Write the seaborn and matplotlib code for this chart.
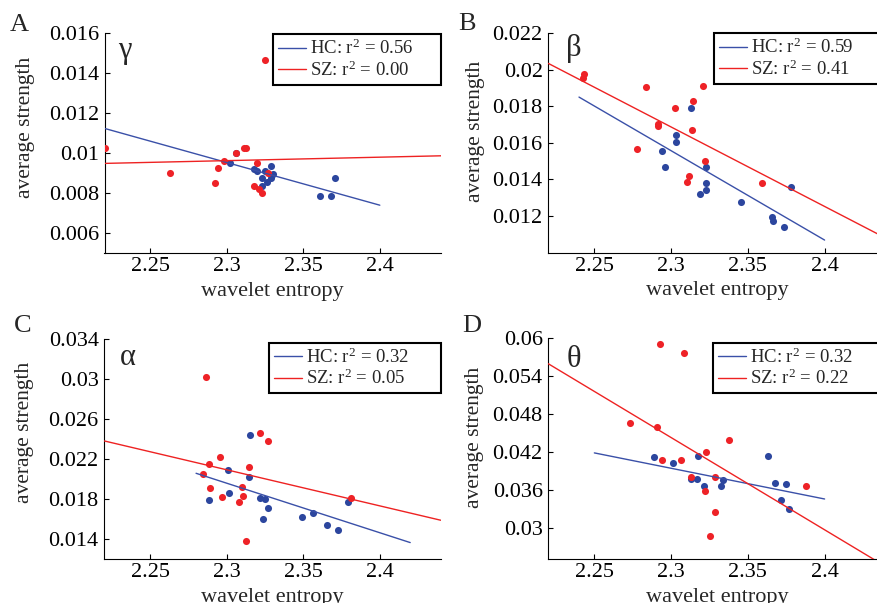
import numpy as np
import pandas as pd
import matplotlib
matplotlib.use("Agg")
import matplotlib.pyplot as plt
import seaborn as sns

# ---------------- data ----------------
# Panel A (gamma)
a_hc_x = [2.3022, 2.3057, 2.3179, 2.3199, 2.3249, 2.3286, 2.3229, 2.3231, 2.3260, 2.3286, 2.3301, 2.3607, 2.3683, 2.3707]
a_hc_y = [0.00951, 0.01001, 0.00921, 0.00911, 0.00911, 0.00935, 0.00873, 0.00834, 0.00856, 0.00873, 0.00894, 0.00787, 0.00784, 0.00873]
a_sz_x = [2.2201, 2.2627, 2.2921, 2.2943, 2.2980, 2.3063, 2.3109, 2.3127, 2.3199, 2.3179, 2.3207, 2.3231, 2.3249, 2.3268]
a_sz_y = [0.01023, 0.00898, 0.00851, 0.00926, 0.00958, 0.01001, 0.01023, 0.01023, 0.00948, 0.00833, 0.00822, 0.00801, 0.01466, 0.00901]
a_hc_fit_x = [2.22, 2.40]
a_hc_fit_y = [0.01123, 0.00739]
a_sz_fit_x = [2.22, 2.44]
a_sz_fit_y = [0.00948, 0.00986]

# Panel B (beta)
b_hc_x = [2.2939, 2.2961, 2.3030, 2.3033, 2.3128, 2.3230, 2.3226, 2.3228, 2.3187, 2.3457, 2.3657, 2.3665, 2.3737, 2.3778]
b_hc_y = [0.01554, 0.01468, 0.01642, 0.01605, 0.01788, 0.01468, 0.01381, 0.01344, 0.01319, 0.01278, 0.01195, 0.01171, 0.01142, 0.01359]
b_sz_x = [2.2430, 2.2428, 2.2776, 2.2839, 2.2915, 2.2915, 2.3024, 2.3104, 2.3117, 2.3141, 2.3137, 2.3207, 2.3222, 2.3594]
b_sz_y = [0.01977, 0.01954, 0.01567, 0.01904, 0.01702, 0.01693, 0.01793, 0.01384, 0.01417, 0.01831, 0.01669, 0.01908, 0.01499, 0.01379]
b_hc_fit_x = [2.24, 2.40]
b_hc_fit_y = [0.01850, 0.01069]
b_sz_fit_x = [2.22, 2.44]
b_sz_fit_y = [0.02034, 0.01079]

# Panel C (alpha)
c_hc_x = [2.2884, 2.3009, 2.3017, 2.3144, 2.3151, 2.3218, 2.3249, 2.3273, 2.3236, 2.3491, 2.3565, 2.3659, 2.3731, 2.3795]
c_hc_y = [0.01789, 0.02092, 0.01862, 0.02022, 0.02445, 0.01809, 0.01803, 0.01709, 0.01603, 0.01626, 0.01663, 0.01543, 0.01490, 0.01776]
c_sz_x = [2.2867, 2.2847, 2.2884, 2.2893, 2.2956, 2.2969, 2.3081, 2.3103, 2.3105, 2.3144, 2.3129, 2.3218, 2.3268, 2.3816]
c_sz_y = [0.03017, 0.02049, 0.02149, 0.01916, 0.02219, 0.01826, 0.01776, 0.01919, 0.01829, 0.02122, 0.01387, 0.02458, 0.02385, 0.01813]
c_hc_fit_x = [2.28, 2.42]
c_hc_fit_y = [0.02059, 0.01367]
c_sz_fit_x = [2.22, 2.44]
c_sz_fit_y = [0.02382, 0.01590]

# Panel D (theta)
d_hc_x = [2.2889, 2.3011, 2.3174, 2.3130, 2.3170, 2.3213, 2.3328, 2.3339, 2.3630, 2.3680, 2.3746, 2.3717, 2.3767]
d_hc_y = [0.04122, 0.04021, 0.04132, 0.03767, 0.03778, 0.03667, 0.03656, 0.03762, 0.04138, 0.03704, 0.03693, 0.03434, 0.03291]
d_sz_x = [2.2930, 2.3087, 2.2733, 2.2907, 2.2941, 2.3063, 2.3130, 2.3230, 2.3376, 2.3285, 2.3220, 2.3283, 2.3252, 2.3880]
d_sz_y = [0.05910, 0.05762, 0.04661, 0.04603, 0.04069, 0.04069, 0.03804, 0.04201, 0.04392, 0.03810, 0.03582, 0.03243, 0.02862, 0.03661]
d_hc_fit_x = [2.25, 2.40]
d_hc_fit_y = [0.04185, 0.03455]
d_sz_fit_x = [2.22, 2.44]
d_sz_fit_y = [0.05597, 0.02383]

x_ticks = [2.25, 2.3, 2.35, 2.4]
x_tick_labels = ["2.25", "2.3", "2.35", "2.4"]
a_yticks = [0.006, 0.008, 0.01, 0.012, 0.014, 0.016]
a_ylabels = ["0.006", "0.008", "0.01", "0.012", "0.014", "0.016"]
b_yticks = [0.012, 0.014, 0.016, 0.018, 0.02, 0.022]
b_ylabels = ["0.012", "0.014", "0.016", "0.018", "0.02", "0.022"]
c_yticks = [0.014, 0.018, 0.022, 0.026, 0.03, 0.034]
c_ylabels = ["0.014", "0.018", "0.022", "0.026", "0.03", "0.034"]
d_yticks = [0.03, 0.036, 0.042, 0.048, 0.054, 0.06]
d_ylabels = ["0.03", "0.036", "0.042", "0.048", "0.054", "0.06"]

panel_letters = ["A", "B", "C", "D"]
band_names = ["\u03b3", "\u03b2", "\u03b1", "\u03b8"]
hc_r2 = ["0.56", "0.59", "0.32", "0.32"]
sz_r2 = ["0.00", "0.41", "0.05", "0.22"]

# ---------------- style ----------------
sns.set_style("ticks")
plt.rcParams["font.family"] = ["Liberation Serif", "DejaVu Serif"]
plt.rcParams["mathtext.fontset"] = "custom"
plt.rcParams["mathtext.rm"] = "Liberation Serif"
plt.rcParams["mathtext.it"] = "Liberation Serif"
plt.rcParams["axes.linewidth"] = 0.8
plt.rcParams["xtick.direction"] = "in"
plt.rcParams["ytick.direction"] = "in"

BLUE_DOT = "#2c469e"
RED_DOT = "#ee2227"
BLUE_LINE = "#3a50a8"
RED_LINE = "#ee2222"

fig = plt.figure(figsize=(8.77, 6.03), dpi=100)

W, H = 877.0, 603.0
# axes boxes in pixels: left, top, right, bottom
boxes = [
    (104.5, 33.0, 441.0, 253.0),
    (548.3, 33.0, 886.0, 252.7),
    (104.3, 339.0, 440.8, 559.3),
    (548.3, 338.3, 886.0, 559.3),
]
letter_pos = [(10, 31), (458, 30), (14, 332), (462, 332)]
greek_pos = [(0.040, 0.886), (0.052, 0.895), (0.045, 0.882), (0.054, 0.871)]
legend_anchor = [(0.502, 0.994), (0.4907, 0.9986), (0.490, 0.983), (0.4886, 0.980)]
ylabel_coords = [(-0.2065, 0.573), (-0.1874, 0.551), (-0.2086, 0.578), (-0.190, 0.551)]

panels = [
    (a_hc_x, a_hc_y, a_sz_x, a_sz_y, a_hc_fit_x, a_hc_fit_y, a_sz_fit_x, a_sz_fit_y, a_yticks, a_ylabels, (0.005, 0.016)),
    (b_hc_x, b_hc_y, b_sz_x, b_sz_y, b_hc_fit_x, b_hc_fit_y, b_sz_fit_x, b_sz_fit_y, b_yticks, b_ylabels, (0.010, 0.022)),
    (c_hc_x, c_hc_y, c_sz_x, c_sz_y, c_hc_fit_x, c_hc_fit_y, c_sz_fit_x, c_sz_fit_y, c_yticks, c_ylabels, (0.012, 0.034)),
    (d_hc_x, d_hc_y, d_sz_x, d_sz_y, d_hc_fit_x, d_hc_fit_y, d_sz_fit_x, d_sz_fit_y, d_yticks, d_ylabels, (0.025, 0.060)),
]

for i, (hx, hy, sx, sy, hfx, hfy, sfx, sfy, yt, ytl, ylim) in enumerate(panels):
    l, t, r, b = boxes[i]
    ax = fig.add_axes([l / W, 1 - b / H, (r - l) / W, (b - t) / H])

    sns.scatterplot(x=hx, y=hy, color=BLUE_DOT, s=26, linewidth=0, ax=ax, legend=False, zorder=3)
    sns.scatterplot(x=sx, y=sy, color=RED_DOT, s=26, linewidth=0, ax=ax, legend=False, zorder=3)
    sns.lineplot(x=hfx, y=hfy, color=BLUE_LINE, linewidth=1.0, ax=ax,
                 label=r"HC: r$^{2}$ = " + hc_r2[i], zorder=4)
    sns.lineplot(x=sfx, y=sfy, color=RED_LINE, linewidth=1.0, ax=ax,
                 label=r"SZ: r$^{2}$ = " + sz_r2[i], zorder=4)

    ax.set_xlim(2.22, 2.44)
    ax.set_ylim(*ylim)
    ax.set_xticks(x_ticks)
    ax.set_xticklabels(x_tick_labels)
    ax.set_yticks(yt)
    ax.set_yticklabels(ytl)
    ax.tick_params(axis="both", labelsize=16, length=3.5, width=0.8, colors="black")
    ax.tick_params(axis="x", pad=3)
    ax.tick_params(axis="y", pad=4)
    for side in ["top", "right"]:
        ax.spines[side].set_visible(False)
    for side in ["left", "bottom"]:
        ax.spines[side].set_color("black")

    ax.set_xlabel("wavelet entropy", fontsize=16, labelpad=4)
    ax.set_ylabel("average strength", fontsize=15.5)
    ax.yaxis.set_label_coords(*ylabel_coords[i])

    gx, gy = greek_pos[i]
    ax.text(gx, gy, band_names[i], transform=ax.transAxes, fontsize=22,
            ha="left", va="baseline")

    lx, ly = letter_pos[i]
    fig.text(lx / W, 1 - ly / H, panel_letters[i], fontsize=19, ha="left", va="baseline")

    ax0, ay0 = legend_anchor[i]
    leg = ax.legend(loc="upper left", bbox_to_anchor=(ax0, ay0 - 0.3, 1.0 - ax0, 0.3),
                    mode="expand", borderaxespad=0, fontsize=13.5, frameon=True,
                    fancybox=False, framealpha=1, edgecolor="black",
                    handlelength=1.5, handletextpad=0.2, borderpad=0.25,
                    labelspacing=0.12)
    leg.get_frame().set_linewidth(1.5)

fig.savefig("out.png", dpi=100)
